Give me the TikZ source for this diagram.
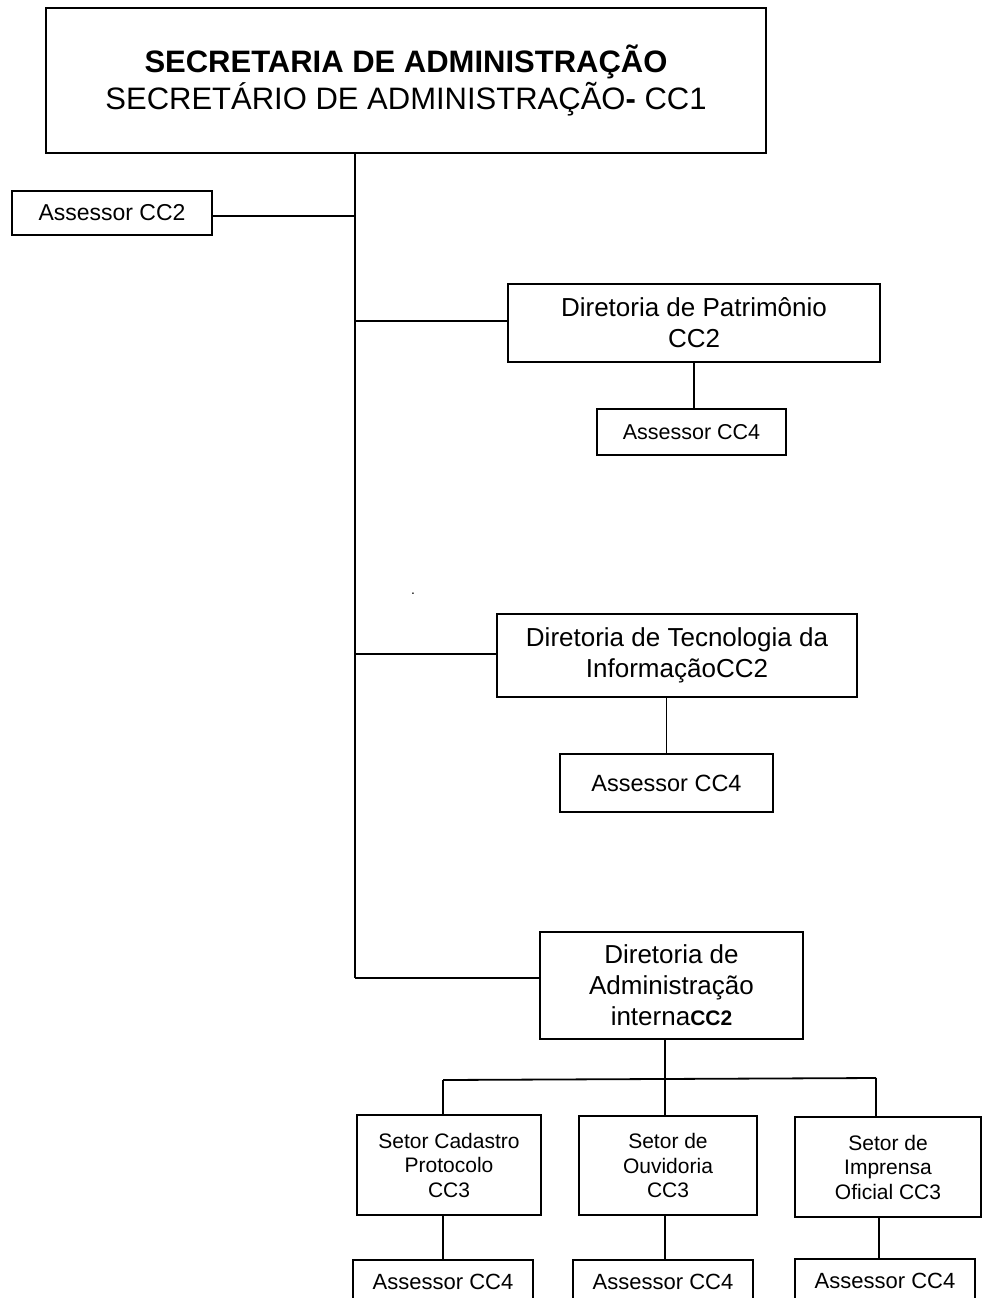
\documentclass[tikz,border=0pt]{standalone}
\usepackage{fontspec}
\setmainfont{Liberation Sans}
\begin{document}
\begin{tikzpicture}[x=1pt,y=-1pt,
  box/.style={draw=black, line width=1.8pt, fill=white, inner sep=0pt, align=center, text=black},
  conn/.style={draw=black, line width=1.8pt},
  ftitle/.style={font=\fontsize{31}{36}\selectfont},
  fdir/.style={font=\fontsize{26}{31}\selectfont},
  fsetor/.style={font=\fontsize{21}{24.5}\selectfont}
]
\useasboundingbox (0,0) rectangle (983,1298);

% nodes
\node[box, ftitle, minimum width=720, minimum height=145] (top) at (406,80.5)
  {\textbf{SECRETARIA DE ADMINISTRAÇÃO}\\[1pt]SECRETÁRIO DE ADMINISTRAÇÃO\textbf{-} CC1};
\node[box, font=\fontsize{23}{27}\selectfont, minimum width=200, minimum height=44] (ass2) at (112,213) {Assessor CC2};

\node[box, fdir, minimum width=372, minimum height=78] (pat) at (694,323) {Diretoria de Patrimônio\\CC2};
\node[box, font=\fontsize{21.5}{25}\selectfont, minimum width=189, minimum height=46] (pa4) at (691.5,432) {Assessor CC4};

\node[box, fdir, minimum width=360, minimum height=83] (tec) at (677,655.5) {Diretoria de Tecnologia da\\InformaçãoCC2};
\node[box, font=\fontsize{23.5}{27}\selectfont, minimum width=213, minimum height=58] (te4) at (666.5,783) {Assessor CC4};

\node[box, fdir, minimum width=263, minimum height=107] (adm) at (671.5,985.5)
  {Diretoria de\\Administração\\interna\textbf{\fontsize{21}{24}\selectfont CC2}};

\node[box, fsetor, minimum width=184, minimum height=100] (cad) at (449,1165) {Setor Cadastro\\Protocolo\\CC3};
\node[box, fsetor, minimum width=178, minimum height=99] (ouv) at (668,1165.5) {Setor de\\Ouvidoria\\CC3};
\node[box, fsetor, minimum width=186, minimum height=100] (imp) at (888,1167) {Setor de\\Imprensa\\Oficial CC3};

\node[box, font=\fontsize{22}{26}\selectfont, minimum width=180, minimum height=44, text depth=0pt] (ca4) at (443,1282) {Assessor CC4};
\node[box, font=\fontsize{22}{26}\selectfont, minimum width=180, minimum height=44] (ou4) at (663,1282) {Assessor CC4};
\node[box, font=\fontsize{22}{26}\selectfont, minimum width=180, minimum height=44] (im4) at (885,1281) {Assessor CC4};

% stray dot
\node[inner sep=0pt, font=\fontsize{14}{14}\selectfont] (dot) at (413,594) {.};

% coordinates
\coordinate (trunk) at (355,978);
\coordinate (bus) at (665,1080);
\coordinate (bL) at (443,1080);
\coordinate (bR) at (876,1078);

% connectors
\draw[conn] (top.south -| trunk) -- (trunk);
\draw[conn] (ass2.east) ++(0,3) coordinate (a2e) -- (a2e -| trunk);
\draw[conn] ([yshift=2]pat.west -| trunk) -- ([yshift=2]pat.west);
\draw[conn] ([yshift=1.5]tec.west -| trunk) -- ([yshift=1.5]tec.west);
\draw[conn] (trunk) -- (trunk -| adm.west);

\draw[conn] (pat.south) -- (pat.south |- pa4.north);
\draw[conn] (te4.north |- tec.south) -- (te4.north);

\draw[conn] (adm.south -| bus) -- (bus);
\draw[conn] (bL) -- (bR);
\draw[conn] (bL) -- (bL |- cad.north);
\draw[conn] (bus) -- (bus |- ouv.north);
\draw[conn] (bR) -- (bR |- imp.north);

\draw[conn] (ca4.north |- cad.south) -- (ca4.north);
\draw[conn] (bus |- ouv.south) -- (bus |- ou4.north);
\draw[conn] ([xshift=-6]im4.north |- imp.south) -- ([xshift=-6]im4.north);
\end{tikzpicture}
\end{document}
